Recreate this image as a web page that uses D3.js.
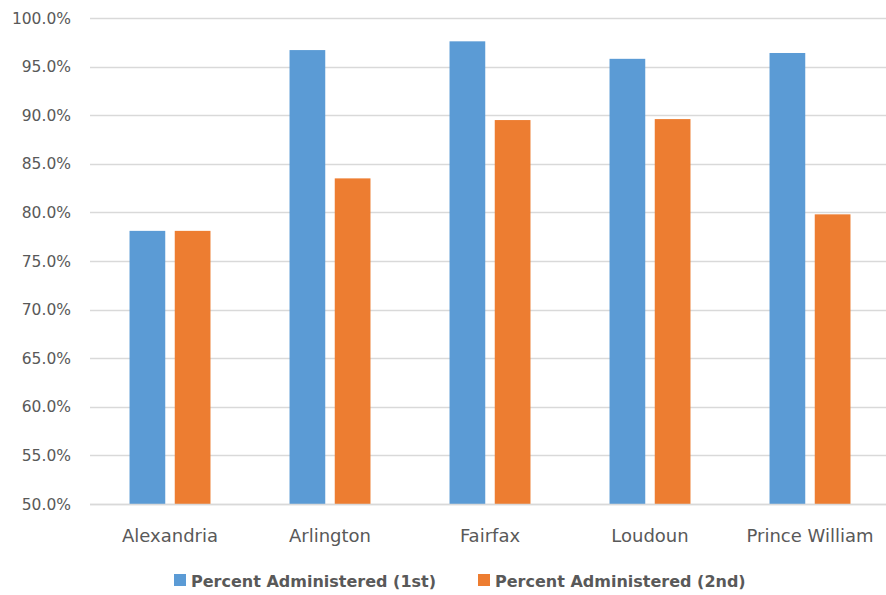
<!DOCTYPE html>
<html>
<head>
<meta charset="utf-8">
<script src="https://cdn.jsdelivr.net/npm/d3@7"></script>
<style>
  body { margin: 0; background: #fff; }
  svg { display: block; font-family: "DejaVu Sans", "Open Sans", sans-serif; }
</style>
</head>
<body>
<div id="chart"></div>
<script>
const COUNTIES = ["Alexandria", "Arlington", "Fairfax", "Loudoun", "Prince William"];
const SERIES = ["Percent Administered (1st)", "Percent Administered (2nd)"];
const FIRST_DOSE = [78.1, 96.7, 97.6, 95.8, 96.4];
const SECOND_DOSE = [78.1, 83.5, 89.5, 89.6, 79.8];
const Y_TICKS = [50, 55, 60, 65, 70, 75, 80, 85, 90, 95, 100];
const COLORS = ["#5B9BD5", "#ED7D31"];

const width = 886;
const height = 595;
const margin = { top: 18, right: -4, bottom: 91, left: 90 };

const rows = COUNTIES.map((c, i) => ({ county: c, values: [FIRST_DOSE[i], SECOND_DOSE[i]] }));

const svg = d3.select("#chart").append("svg")
  .attr("width", width)
  .attr("height", height);

const x0 = d3.scaleBand()
  .domain(COUNTIES)
  .range([margin.left, width - margin.right])
  .paddingInner(0.494)
  .paddingOuter(0.247);

const x1 = d3.scaleBand()
  .domain(d3.range(SERIES.length))
  .range([0, x0.bandwidth()])
  .paddingInner(0.21);

const y = d3.scaleLinear()
  .domain([50, 100])
  .range([height - margin.bottom, margin.top]);

// gridlines
svg.append("g")
  .selectAll("line")
  .data(Y_TICKS)
  .join("line")
  .attr("x1", margin.left)
  .attr("x2", width)
  .attr("y1", (d) => Math.round(y(d)) + 0.5)
  .attr("y2", (d) => Math.round(y(d)) + 0.5)
  .attr("stroke", "#D9D9D9")
  .attr("stroke-width", 1.5);

// y labels
svg.append("g")
  .selectAll("text")
  .data(Y_TICKS)
  .join("text")
  .attr("x", 71)
  .attr("y", (d) => y(d))
  .attr("dy", "0.36em")
  .attr("text-anchor", "end")
  .attr("font-size", 15.5)
  .attr("fill", "#595959")
  .text((d) => d.toFixed(1) + "%");

// bars
svg.append("g")
  .selectAll("g")
  .data(rows)
  .join("g")
  .attr("transform", (d) => `translate(${x0(d.county)},0)`)
  .selectAll("rect")
  .data((d) => d.values.map((v, i) => ({ v, i })))
  .join("rect")
  .attr("x", (d) => x1(d.i))
  .attr("width", x1.bandwidth())
  .attr("y", (d) => y(d.v))
  .attr("height", (d) => y(50) - y(d.v))
  .attr("fill", (d) => COLORS[d.i]);

// redraw baseline over bars
svg.append("line")
  .attr("x1", margin.left)
  .attr("x2", width)
  .attr("y1", Math.round(y(50)) + 0.5)
  .attr("y2", Math.round(y(50)) + 0.5)
  .attr("stroke", "#D9D9D9")
  .attr("stroke-width", 1.5);

// category labels
svg.append("g")
  .selectAll("text")
  .data(COUNTIES)
  .join("text")
  .attr("x", (d) => x0(d) + x0.bandwidth() / 2)
  .attr("y", 542)
  .attr("text-anchor", "middle")
  .attr("font-size", 18)
  .attr("fill", "#595959")
  .text((d) => d);

// legend
const legendX = [174, 478];
const legend = svg.append("g")
  .selectAll("g")
  .data(SERIES)
  .join("g")
  .attr("transform", (d, i) => `translate(${legendX[i]},574)`);
legend.append("rect")
  .attr("width", 12)
  .attr("height", 12)
  .attr("fill", (d, i) => COLORS[i]);
legend.append("text")
  .attr("x", 17)
  .attr("y", 12.5)
  .attr("font-size", 16)
  .attr("font-weight", "bold")
  .attr("fill", "#595959")
  .text((d) => d);
</script>
</body>
</html>
